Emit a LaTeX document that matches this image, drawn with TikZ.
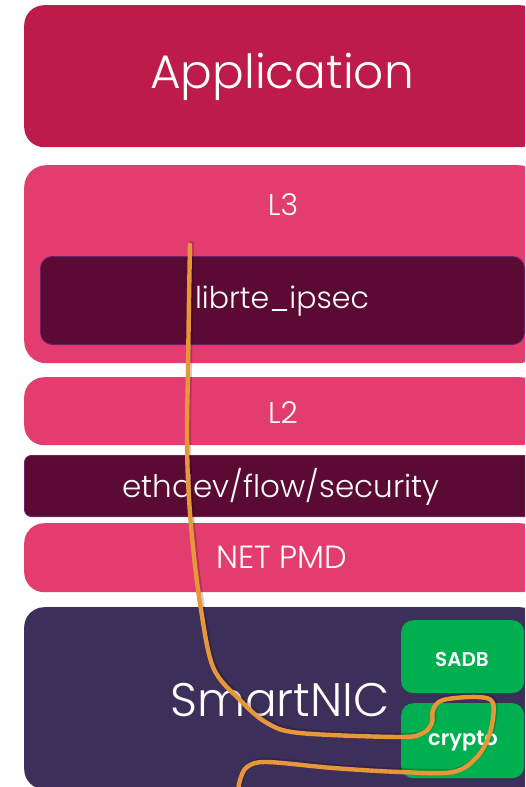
\documentclass[tikz,border=0pt]{standalone}
\usepackage{fontspec}
\setmainfont{Poppins}[UprightFont={* Light}, BoldFont={* SemiBold}]
\begin{document}
\begin{tikzpicture}[x=1pt,y=-1pt,
  layer/.style={draw=none, anchor=north west, inner sep=0pt, text=white, align=center},
  lbl/.style={text=white, inner sep=0pt},
  mid/.style={lbl, font=\fontsize{30}{34}\selectfont},
  big/.style={lbl, font=\fontsize{47}{52}\selectfont},
  tag/.style={lbl, font=\fontsize{20}{24}\selectfont\bfseries},
  wire/.style={draw=orangeline, line width=4.4pt, line cap=round, line join=round}]
\definecolor{appred}{HTML}{BD1C4B}
\definecolor{pink}{HTML}{E23D6E}
\definecolor{darkplum}{HTML}{5A0A33}
\definecolor{plumedge}{HTML}{6E1F6E}
\definecolor{nicpurple}{HTML}{3C2F5A}
\definecolor{green}{HTML}{00AF50}
\definecolor{orangeline}{HTML}{E8963A}
\useasboundingbox (0,0) rectangle (525,787);
\begin{scope}
\clip (0,0) rectangle (525,787);
\fill[white] (0,0) rectangle (525,787);
% Application
\node[layer, fill=appred, rounded corners=20pt, minimum width=516pt, minimum height=142pt] (app) at (24,5) {};
\node[big] (apptxt) at (282,77) {Application};
% L3
\node[layer, fill=pink, rounded corners=22pt, minimum width=516pt, minimum height=198pt] (l3) at (24,165) {};
\node[mid] (l3txt) at (283,205) {L3};
\node[layer, fill=darkplum, draw=plumedge, line width=1pt, rounded corners=12pt, minimum width=484pt, minimum height=88pt] (ipsec) at (40,256) {};
\node[mid] (ipsectxt) at (282,301) {librte\_ipsec};
% L2
\node[layer, fill=pink, rounded corners=20pt, minimum width=516pt, minimum height=68pt] (l2) at (24,377) {};
\node[mid] (l2txt) at (283,413) {L2};
% ethdev
\node[layer, fill=darkplum, draw=plumedge, line width=1pt, rounded corners=7pt, minimum width=516pt, minimum height=61pt] (eth) at (24,455) {};
\node[mid, font=\fontsize{31}{34}\selectfont] (ethtxt) at (281,487) {ethdev/flow/security};
% NET PMD
\node[layer, fill=pink, rounded corners=20pt, minimum width=516pt, minimum height=69pt] (pmd) at (24,523) {};
\node[mid, font=\fontsize{32}{36}\selectfont] (pmdtxt) at (282,557) {NET PMD};
% SmartNIC
\node[layer, fill=nicpurple, rounded corners=20pt, minimum width=516pt, minimum height=182pt] (nic) at (24,607) {};
\node[big] (nictxt) at (280,700) {SmartNIC};
\node[layer, fill=green, rounded corners=12pt, minimum width=123pt, minimum height=73pt] (sadb) at (401,620) {};
\node[tag] (sadbtxt) at (462,659) {SADB};
\node[layer, fill=green, rounded corners=12pt, minimum width=123pt, minimum height=75pt] (crypto) at (401,703) {};
\node[tag, font=\fontsize{21}{24}\selectfont\bfseries] (cryptotxt) at (463,741) {crypto};
% path
\coordinate (ps) at (190,245);
\coordinate (pe) at (238,792);
\draw[line width=5pt, black, opacity=0.18, line cap=round, line join=round, xshift=1.5pt, yshift=1.5pt]
  plot[smooth, tension=0.55] coordinates {(190,245) (189,300) (188,370) (187,430) (188,480) (192,537) (200,603) (213,667) (240,700) (267,723) (300,733) (400,737) (423,733) (432,723) (433,710) (443,700) (477,697) (493,703) (490,733) (477,757) (453,772) (400,772) (333,768) (267,762) (247,767) (240,780) (238,792)};
\draw[wire] plot[smooth, tension=0.55] coordinates {(ps) (189,300) (188,370) (187,430) (188,480) (192,537) (200,603) (213,667) (240,700) (267,723) (300,733) (400,737) (423,733) (432,723) (433,710) (443,700) (477,697) (493,703) (490,733) (477,757) (453,772) (400,772) (333,768) (267,762) (247,767) (240,780) (pe)};
\end{scope}
\end{tikzpicture}
\end{document}
